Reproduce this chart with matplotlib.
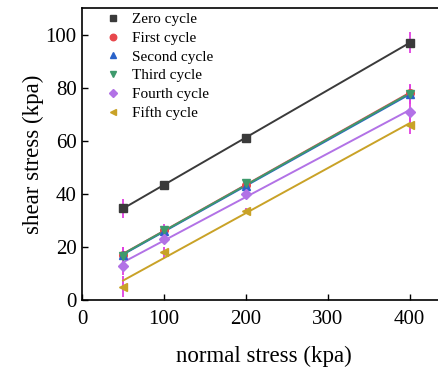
import numpy as np
import matplotlib
matplotlib.use('Agg')
import matplotlib.pyplot as plt

plt.rcParams['font.family'] = ['Liberation Serif', 'DejaVu Serif']

normal = [50, 100, 200, 400]
labels = ['Zero cycle', 'First cycle', 'Second cycle', 'Third cycle', 'Fourth cycle', 'Fifth cycle']
shear = [
    [34.5, 43.5, 61.0, 97.0],
    [17.0, 26.5, 43.5, 78.0],
    [17.0, 26.0, 43.0, 77.5],
    [16.5, 26.5, 44.0, 77.5],
    [13.0, 23.0, 40.0, 71.0],
    [5.0, 18.0, 33.5, 66.0],
]
errs = [
    [3.5, 1.0, 1.0, 4.0],
    [3.0, 1.5, 1.5, 3.5],
    [3.0, 1.5, 1.5, 3.5],
    [3.0, 2.0, 1.5, 3.0],
    [3.5, 1.5, 1.0, 4.0],
    [4.0, 2.0, 1.0, 3.5],
]
colors = ['#3a3a3a', '#e8474c', '#2a62c9', '#3e9a6c', '#b272e6', '#c9a227']
markers = ['s', 'o', '^', 'v', 'D', '<']

fig = plt.figure(figsize=(4.39, 3.69), dpi=100)
ax = fig.add_axes([0.187, 0.187, 0.83, 0.791])

xs = np.array(normal)
for ys, er, c, m, lab in zip(shear, errs, colors, markers, labels):
    k, b = np.polyfit(xs, ys, 1)
    ax.plot(xs, k * xs + b, color=c, lw=1.4, zorder=2)
    ax.errorbar(xs, ys, yerr=er, fmt='none', ecolor='#e040e0', elinewidth=1.3, zorder=1)
    ax.plot(xs, ys, ls='none', marker=m, color=c, ms=5.5 if m != 'D' else 5, label=lab, zorder=3)

ax.set_xlim(0, 445)
ax.set_ylim(0, 110)
ax.set_xticks([0, 100, 200, 300, 400])
ax.set_yticks([0, 20, 40, 60, 80, 100])
ax.tick_params(direction='in', labelsize=15, width=1, length=4)
ax.tick_params(axis='x', pad=7)
ax.tick_params(axis='y', pad=4)
for s in ax.spines.values():
    s.set_linewidth(1.2)
ax.set_xlabel('normal stress (kpa)', fontsize=16.5, labelpad=12)
ax.set_ylabel('shear stress (kpa)', fontsize=16.5, labelpad=1)
ax.legend(loc='upper left', frameon=False, fontsize=11, handlelength=1.0,
          labelspacing=0.33, borderaxespad=0, borderpad=0, handletextpad=0.7,
          bbox_to_anchor=(0.065, 0.985), markerscale=0.85)

fig.savefig('out.png', dpi=100)
